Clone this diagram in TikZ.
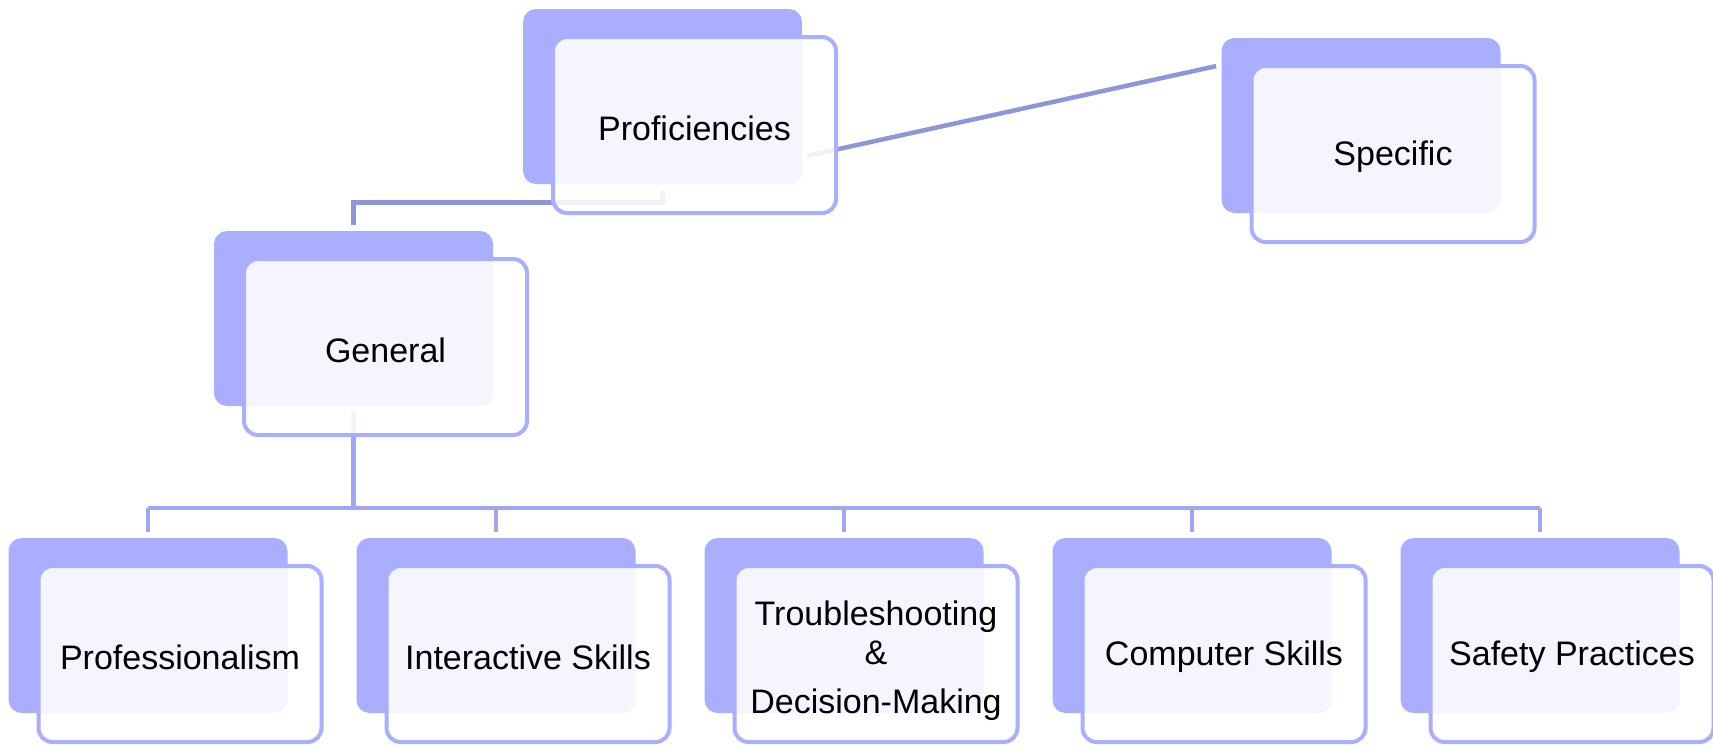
\documentclass[tikz,border=0pt]{standalone}
\usepackage{fontspec}
\setmainfont{Liberation Sans}
\usepackage{tikz}
\usetikzlibrary{positioning,calc}

\definecolor{cardblue}{HTML}{AAAEFF}
\definecolor{tieblue}{HTML}{9094D8}
\definecolor{busblue}{HTML}{A2A5F2}

\pgfdeclarelayer{background}
\pgfsetlayers{background,main}

\begin{document}
\begin{tikzpicture}[
  x=0.5pt, y=-0.5pt,
  font=\fontsize{17}{22.5}\selectfont,
  back/.style={fill=cardblue, draw=none, rounded corners=6.5pt, minimum width=139.5pt, minimum height=87.5pt, inner sep=0pt},
  card/.style={draw=cardblue, line width=2pt, fill=white, fill opacity=0.88, text opacity=1, rounded corners=7pt, minimum width=141.5pt, minimum height=88pt, align=center, inner sep=0pt, execute at begin node={\rule{0pt}{15.5pt}}},
  tie/.style={draw=tieblue, line width=2.25pt},
  bus/.style={draw=busblue, line width=2.25pt}
]
\useasboundingbox (0,0) rectangle (1713,746);

% top level
\node[back] (prof-b) at (662.5,96.5) {};
\node[card] (prof) at ([shift={(32,28.5)}]prof-b) {Proficiencies};
\node[back] (spec-b) at (1361,125.5) {};
\node[card] (spec) at ([shift={(32,28.5)}]spec-b) {Specific};
\node[back] (gen-b) at (353.5,318.5) {};
\node[card] (gen) at ([shift={(32,28.5)}]gen-b) {General};

% general proficiencies
\node[back] (pro-b) at (148,625.5) {};
\node[card] (pro) at ([shift={(32,28.5)}]pro-b) {Professionalism};
\node[back] (int-b) at (496,625.5) {};
\node[card] (int) at ([shift={(32,28.5)}]int-b) {Interactive Skills};
\node[back] (tro-b) at (844,625.5) {};
\node[card] (tro) at ([shift={(32,28.5)}]tro-b) {\rule{0pt}{19.5pt}Troubleshooting\\[-3pt]\&\\[2pt]Decision-Making};
\node[back] (com-b) at (1192,625.5) {};
\node[card] (com) at ([shift={(32,28.5)}]com-b) {Computer Skills};
\node[back] (saf-b) at (1540,625.5) {};
\node[card] (saf) at ([shift={(32,28.5)}]saf-b) {Safety Practices};

\begin{pgfonlayer}{background}
  \draw[tie] ([yshift=-3.5pt]prof-b.south) -- ++(0,11) -| ([yshift=3pt]gen-b.north);
  \draw[tie] ([shift={(2.25pt,-29.75pt)}]prof-b.east) -- ([shift={(-2.5pt,-14.25pt)}]spec-b.north west);

  \coordinate (bus) at (353.5,508);
  \draw[bus] ([yshift=-3pt]gen-b.south) -- (bus);
  \draw[bus] (pro-b.north |- bus) -- (saf-b.north |- bus);
  \foreach \n in {pro,int,tro,com,saf}
    \draw[bus] (\n-b.north |- bus) -- ([yshift=3pt]\n-b.north);
\end{pgfonlayer}
\end{tikzpicture}
\end{document}
